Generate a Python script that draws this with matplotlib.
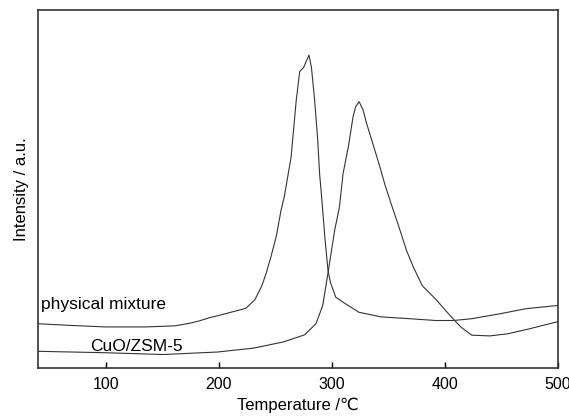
import matplotlib.pyplot as plt

plt.rcParams['font.family'] = ['Liberation Sans', 'DejaVu Sans']

# physical mixture (intensity normalised 0..1 over the axes)
mix_t = [40, 71, 100, 135, 161, 174, 183, 192, 200, 212, 224, 232, 238, 242, 246,
         251, 255, 258, 264, 268.6, 271.6, 275, 279.8, 282, 284.8, 287.5, 289.3,
         291, 293.8, 296.6, 298.7, 303.5, 310, 324, 343.6, 369, 391.7, 407.7,
         423.7, 449, 471.8, 500]
mix_i = [0.125, 0.12, 0.116, 0.116, 0.119, 0.126, 0.133, 0.142, 0.148, 0.158,
         0.168, 0.192, 0.23, 0.266, 0.31, 0.37, 0.44, 0.48, 0.59, 0.75, 0.829,
         0.84, 0.875, 0.84, 0.75, 0.64, 0.54, 0.48, 0.368, 0.275, 0.241, 0.199,
         0.185, 0.157, 0.144, 0.139, 0.134, 0.134, 0.139, 0.153, 0.167, 0.176]

# CuO/ZSM-5
cuo_t = [40, 100, 151, 199, 231, 257, 276, 286, 292, 297.5, 302.6, 306.7, 310,
         314.7, 318.8, 321, 324.1, 327.6, 330.7, 337, 342.5, 346.8, 351.4, 360.2,
         366, 372, 380, 391.7, 404.5, 414, 423.7, 439.7, 455.8, 475, 500]
cuo_i = [0.048, 0.044, 0.039, 0.046, 0.057, 0.074, 0.094, 0.125, 0.176, 0.284,
         0.387, 0.45, 0.545, 0.62, 0.703, 0.73, 0.745, 0.722, 0.685, 0.62, 0.563,
         0.515, 0.47, 0.387, 0.33, 0.284, 0.231, 0.194, 0.148, 0.116, 0.093,
         0.091, 0.097, 0.111, 0.131]

fig = plt.figure(figsize=(5.69, 4.16), dpi=100)
ax = fig.add_axes([0.0663, 0.1142, 0.9144, 0.861])

ax.plot(mix_t, mix_i, color='#333333', lw=0.8)
ax.plot(cuo_t, cuo_i, color='#333333', lw=0.8)

ax.text(42.6, 0.165, 'physical mixture', fontsize=12.5, va='baseline', ha='left')
ax.text(86, 0.05, 'CuO/ZSM-5', fontsize=12.5, va='baseline', ha='left')

ax.set_xlim(40, 500)
ax.set_ylim(0, 1)
ax.set_xticks([100, 200, 300, 400, 500])
ax.set_yticks([])
ax.tick_params(axis='x', direction='in', length=4.3, width=1, pad=6,
               labelsize=11.5, top=False)
for s in ax.spines.values():
    s.set_linewidth(1.2)
    s.set_color('#333333')

ax.set_xlabel('Temperature /℃', fontsize=12, labelpad=4)
ax.set_ylabel('Intensity / a.u.', fontsize=12, labelpad=6)

fig.savefig('out.png', dpi=100)
